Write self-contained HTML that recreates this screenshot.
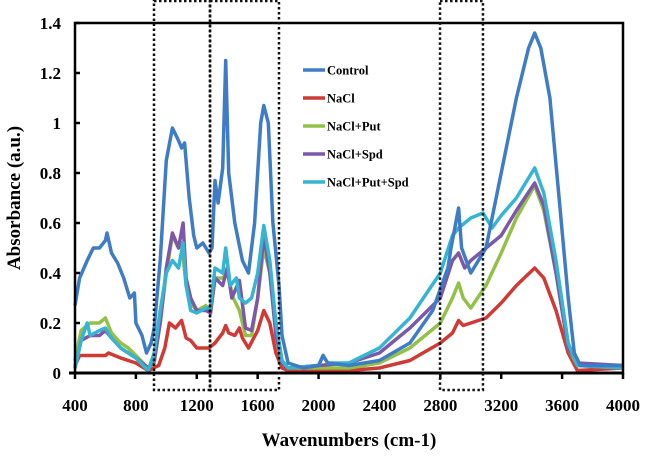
<!DOCTYPE html>
<html><head><meta charset="utf-8"><style>
body{margin:0;background:#fff;}
svg text{font-family:"Liberation Serif",serif;font-weight:bold;fill:#000;}
</style></head><body>
<svg id="c" width="645" height="465" viewBox="0 0 645 465"></svg>
<script>
const xTicks=[400,800,1200,1600,2000,2400,2800,3200,3600,4000];
const yTicks=[0,0.2,0.4,0.6,0.8,1,1.2,1.4];
const yTickLabels=["0","0.2","0.4","0.6","0.8","1","1.2","1.4"];
const seriesNames=["Control","NaCl","NaCl+Put","NaCl+Spd","NaCl+Put+Spd"];
const seriesColors=["#3f7cc6","#cf3a35","#93c047","#7d57a8","#35b5d2"];
const boxRanges=[[919,1287],[1287,1740],[2798,3080]];
const controlData=[[400,0.27],[430,0.38],[480,0.45],[520,0.5],[560,0.5],[600,0.53],[610,0.56],[640,0.48],[680,0.44],[720,0.38],[760,0.3],[790,0.32],[800,0.2],[840,0.15],[870,0.08],[900,0.12],[920,0.18],[960,0.45],[1000,0.85],[1040,0.98],[1080,0.93],[1100,0.9],[1120,0.92],[1150,0.7],[1180,0.55],[1200,0.5],[1240,0.52],[1280,0.48],[1300,0.5],[1320,0.77],[1340,0.68],[1370,0.82],[1390,1.25],[1410,0.8],[1450,0.6],[1500,0.45],[1540,0.4],[1580,0.6],[1620,1.0],[1640,1.07],[1670,1.0],[1700,0.6],[1740,0.35],[1760,0.15],[1800,0.04],[1900,0.02],[2000,0.03],[2030,0.07],[2060,0.04],[2200,0.03],[2400,0.05],[2600,0.12],[2750,0.25],[2850,0.42],[2870,0.5],[2920,0.66],[2940,0.5],[3000,0.4],[3100,0.5],[3200,0.8],[3300,1.1],[3380,1.3],[3420,1.36],[3460,1.3],[3520,1.1],[3580,0.7],[3640,0.3],[3680,0.08],[3720,0.03],[4000,0.03]];
const naclData=[[400,0.03],[430,0.07],[500,0.07],[600,0.07],[620,0.08],[700,0.06],[800,0.04],[880,0.01],[950,0.03],[990,0.1],[1020,0.2],[1060,0.18],[1100,0.21],[1130,0.14],[1160,0.13],[1200,0.1],[1280,0.1],[1320,0.12],[1370,0.16],[1390,0.19],[1410,0.16],[1450,0.15],[1480,0.18],[1500,0.14],[1540,0.1],[1600,0.17],[1640,0.25],[1680,0.2],[1720,0.08],[1760,0.02],[1800,0.01],[2000,0.01],[2200,0.01],[2400,0.02],[2600,0.05],[2800,0.12],[2880,0.16],[2920,0.21],[2950,0.19],[3000,0.2],[3100,0.22],[3200,0.28],[3300,0.35],[3420,0.42],[3480,0.38],[3560,0.25],[3640,0.08],[3700,0.01],[4000,0.02]];
const putData=[[400,0.05],[440,0.17],[500,0.2],[560,0.2],[600,0.22],[640,0.16],[700,0.12],[750,0.1],[800,0.07],[880,0.02],[920,0.04],[960,0.2],[1000,0.4],[1040,0.55],[1080,0.5],[1100,0.52],[1130,0.35],[1160,0.28],[1200,0.25],[1260,0.27],[1290,0.24],[1320,0.38],[1370,0.38],[1400,0.4],[1440,0.3],[1480,0.25],[1520,0.15],[1560,0.15],[1600,0.3],[1640,0.5],[1680,0.4],[1720,0.2],[1760,0.05],[1800,0.02],[2000,0.02],[2200,0.02],[2400,0.04],[2600,0.1],[2800,0.2],[2880,0.3],[2920,0.36],[2950,0.3],[3000,0.26],[3100,0.35],[3200,0.48],[3300,0.62],[3420,0.75],[3480,0.65],[3560,0.4],[3640,0.1],[3700,0.03],[4000,0.02]];
const spdData=[[400,0.02],[440,0.13],[500,0.15],[560,0.15],[600,0.17],[640,0.14],[700,0.1],[800,0.06],[880,0.02],[920,0.05],[960,0.2],[1000,0.42],[1040,0.56],[1080,0.5],[1110,0.6],[1130,0.38],[1160,0.3],[1200,0.25],[1260,0.25],[1290,0.24],[1320,0.38],[1370,0.35],[1400,0.42],[1430,0.3],[1480,0.37],[1520,0.18],[1560,0.17],[1600,0.3],[1640,0.55],[1680,0.4],[1720,0.15],[1760,0.04],[1800,0.02],[2000,0.03],[2200,0.04],[2400,0.08],[2600,0.18],[2800,0.3],[2880,0.45],[2920,0.48],[2960,0.42],[3000,0.45],[3100,0.5],[3200,0.55],[3300,0.65],[3420,0.76],[3480,0.67],[3560,0.4],[3640,0.1],[3700,0.04],[4000,0.03]];
const putSpdData=[[400,0.02],[440,0.13],[480,0.2],[500,0.15],[560,0.17],[600,0.18],[640,0.14],[700,0.1],[800,0.06],[880,0.01],[920,0.08],[960,0.25],[1000,0.4],[1040,0.45],[1080,0.42],[1110,0.52],[1130,0.35],[1160,0.25],[1200,0.24],[1260,0.26],[1290,0.26],[1320,0.42],[1370,0.4],[1390,0.5],[1420,0.35],[1460,0.38],[1480,0.3],[1520,0.28],[1560,0.3],[1600,0.4],[1640,0.59],[1680,0.45],[1720,0.2],[1760,0.05],[1800,0.02],[2000,0.03],[2030,0.07],[2060,0.04],[2200,0.04],[2400,0.1],[2600,0.22],[2800,0.4],[2880,0.55],[2920,0.58],[3000,0.62],[3080,0.64],[3140,0.58],[3200,0.63],[3300,0.7],[3420,0.82],[3480,0.72],[3560,0.45],[3640,0.12],[3700,0.03],[4000,0.02]];
const allSeries=[controlData,naclData,putData,spdData,putSpdData];

const svg=document.getElementById('c');
const NS='http://www.w3.org/2000/svg';
const L=75,R=623,T=23,B=373;
const xs=v=>L+(v-400)/(4000-400)*(R-L);
const ys=v=>B-v/1.4*(B-T);
function mk(tag,attrs,parent){const e=document.createElementNS(NS,tag);for(const k in attrs)e.setAttribute(k,attrs[k]);(parent||svg).appendChild(e);return e;}

const drawOrder=[1,2,3,4,0];
drawOrder.forEach(i=>{
  const d=allSeries[i].map((p,j)=>(j?'L':'M')+xs(p[0]).toFixed(1)+','+ys(p[1]).toFixed(1)).join('');
  const p=mk('path',{d:d,fill:'none',stroke:seriesColors[i],'stroke-width':3.5,'stroke-linejoin':'round'});
  
  
});

const fr=mk('rect',{x:L,y:T,width:R-L,height:B-T,fill:'none',stroke:'#000','stroke-width':2.5});


const xl=mk('line',{x1:L-6,y1:B,x2:R,y2:B,stroke:'#000','stroke-width':3});



xTicks.forEach(v=>{
  const t=mk('line',{x1:xs(v),y1:B,x2:xs(v),y2:B+6,stroke:'#000','stroke-width':2.5});
  
  
  const tx=mk('text',{x:xs(v),y:B+38,'text-anchor':'middle','font-size':17});
  tx.textContent=v;
  
  
});
yTicks.forEach((v,i)=>{
  const t=mk('line',{x1:L,y1:ys(v),x2:L+5,y2:ys(v),stroke:'#000','stroke-width':2.5});
  
  
  const tx=mk('text',{x:L-14,y:ys(v)+6,'text-anchor':'end','font-size':17});
  tx.textContent=yTickLabels[i];
  
  
});

boxRanges.forEach(r=>{
  const b=mk('rect',{x:xs(r[0]),y:1,width:xs(r[1])-xs(r[0]),height:389,fill:'none',stroke:'#111','stroke-width':2.5,'stroke-dasharray':'2.5,2.5'});
  
  
});

seriesNames.forEach((n,i)=>{
  const y=70+i*28;
  const g=mk('g',{});
  
  
  mk('line',{x1:303,y1:y,x2:325,y2:y,stroke:seriesColors[i],'stroke-width':3.5},g);
  const t=mk('text',{x:327,y:y+4.5,'font-size':12.5},g);
  t.textContent=n;
});

const xt=mk('text',{x:349,y:446,'text-anchor':'middle','font-size':19});
xt.textContent='Wavenumbers (cm-1)';


const yt=mk('text',{x:0,y:0,'text-anchor':'middle','font-size':19,transform:'translate(20,198) rotate(-90)'});
yt.textContent='Absorbance (a.u.)';


</script>
</body></html>
